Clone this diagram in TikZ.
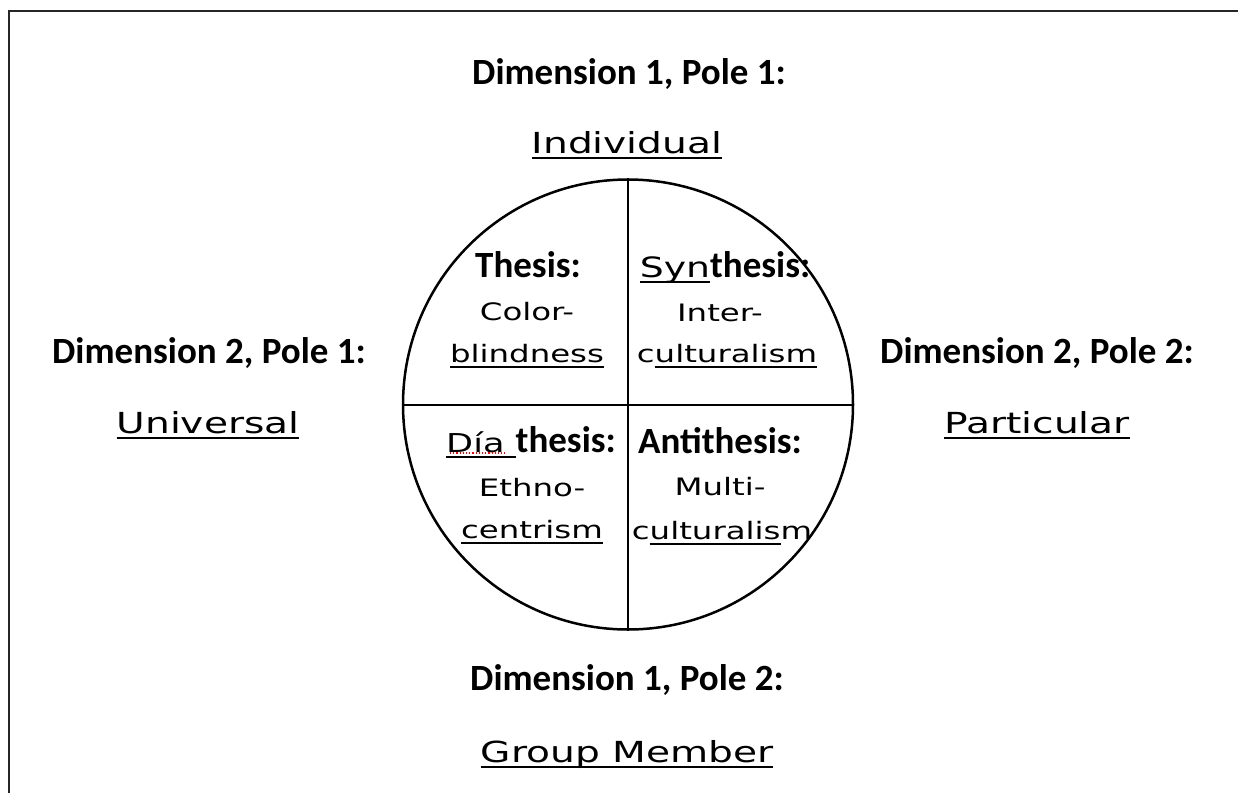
\documentclass[tikz,border=0pt]{standalone}
\usepackage{fontspec}
\setmainfont{Carlito}
\newfontfamily\hand[FakeStretch=1.35]{DejaVu Sans}
\newcommand\hul[1]{\sbox0{#1}\rlap{\rule[-5.5pt]{\wd0}{1.4pt}}\usebox0}
\tikzset{
  bold/.style={font=\fontsize{37}{44}\selectfont\bfseries, anchor=base, inner sep=0pt},
  handout/.style={font=\fontsize{29}{34}\selectfont\hand, anchor=base, inner sep=0pt},
  handin/.style={font=\fontsize{24}{28}\selectfont\hand, anchor=base, inner sep=0pt},
  mixed/.style={font=\fontsize{37}{44}\selectfont, anchor=base, inner sep=0pt},
  frame/.style={line width=2pt, black!85},
  divider/.style={line width=2pt},
}
\begin{document}
\begin{tikzpicture}[x=1pt,y=-1pt]
\useasboundingbox (0,0) rectangle (1238,793);
\draw[frame] (1238,11) -- (9,11) -- (9,793);
% circle and quadrants
\node[circle, draw, line width=2.5pt, minimum size=450pt, inner sep=0pt] (c) at (628,404.5) {};
\draw[divider] (c.north) -- (c.south);
\draw[divider] (c.west) -- (c.east);
% outer labels
\node[bold] (d1p1) at (629,84) {Dimension 1, Pole 1:};
\node[handout] (ind) at (627,153) {\hul{Individual}};
\node[bold] (d2p1) at (209,363) {Dimension 2, Pole 1:};
\node[handout] (uni) at (208,433) {\hul{Universal}};
\node[bold] (d2p2) at (1037,363) {Dimension 2, Pole 2:};
\node[handout] (par) at (1037,433) {\hul{Particular}};
\node[bold] (d1p2) at (627,690) {Dimension 1, Pole 2:};
\node[handout] (grp) at (627,762) {\hul{Group Member}};
% top-left
\node[bold] (th) at (528,277) {Thesis:};
\node[handin] (col) at (527,320) {Color-};
\node[handin] (bli) at (527,362) {\hul{blindness}};
% top-right
\node[mixed] (syn) at (725,277) {\hul{\fontsize{28}{32}\selectfont\hand Syn}\bfseries thesis:};
\node[handin] (int) at (720,321) {Inter-};
\node[handin] (cul1) at (727,362) {c\hul{ulturalism}};
% bottom-left
\node[mixed] (dia) at (531,452) {\hul{\fontsize{26}{30}\selectfont\hand Día }\bfseries thesis:};
\draw[red, dotted, line width=1.2pt] (450,453) -- (505,453);
\node[handin] (eth) at (532,496) {Ethno-};
\node[handin] (cen) at (532,538) {\hul{centrism}};
% bottom-right
\node[bold] (ant) at (720,453) {Antithesis:};
\node[handin] (mul) at (720,495) {Multi-};
\node[handin] (cul2) at (722,539) {c\hul{ulturalis}m};
\end{tikzpicture}
\end{document}
